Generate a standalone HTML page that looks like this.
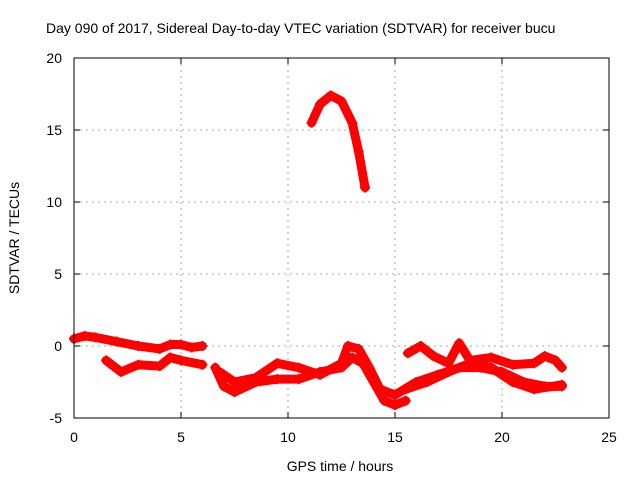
<!DOCTYPE html>
<html><head><meta charset="utf-8"><style>
body{margin:0;background:#fff;width:640px;height:480px;overflow:hidden}
svg text{font-family:"Liberation Sans",sans-serif;font-size:14px;fill:#000}
</style></head><body>
<svg id="c" width="640" height="480">
<text x="46" y="33">Day 090 of 2017, Sidereal Day-to-day VTEC variation (SDTVAR) for receiver bucu</text>
<text x="340" y="471" text-anchor="middle">GPS time / hours</text>
<text transform="translate(19,238) rotate(-90)" text-anchor="middle">SDTVAR / TECUs</text>
<g id="grid"></g><g id="ticks"></g><g id="marks"></g>
<rect x="74" y="58" width="535" height="360" fill="none" stroke="#000"/>
</svg>
<script>
const xTicks=[0,5,10,15,20,25];
const yTicks=[-5,0,5,10,15,20];
const seriesA=[[0,0.5],[0.5,0.7],[1,0.6],[2,0.3],[3,0],[4,-0.2],[4.5,0.1],[5,0.1],[5.5,-0.1],[6,0]];
const seriesB=[[1.5,-1],[2.2,-1.8],[3,-1.3],[4,-1.4],[4.5,-0.8],[5,-1],[6,-1.3]];
const seriesC=[[6.6,-1.5],[7,-2.8],[7.5,-3.2],[8.5,-2.5],[9.5,-2.3],[10.5,-2.3],[11.5,-1.8],[12.5,-1.5],[13,-0.8],[13.5,-1.2],[14,-2.5],[14.5,-3.8],[15,-4.1],[15.5,-3.8]];
const seriesD=[[6.8,-1.8],[7.5,-2.5],[8.5,-2.2],[9.5,-1.2],[10.5,-1.5],[11.5,-2],[12.5,-1.2],[12.8,0],[13.3,-0.2],[13.8,-1.5],[14.3,-3],[15,-3.4],[16,-2.5],[17,-2],[18,-1.5],[19,-1.5],[20,-1.8],[21,-2.5],[22,-2.8],[22.8,-2.8]];
const seriesE=[[15.5,-3],[16.5,-2.5],[17.5,-1.8],[18.5,-1.2],[19.5,-1.5],[20.5,-2.5],[21.5,-3],[22.8,-2.7]];
const seriesF=[[15.6,-0.5],[16.2,0],[16.8,-0.7],[17.5,-1.2],[18,0.2],[18.5,-1],[19.5,-0.8],[20.5,-1.3],[21.5,-1.2],[22,-0.7],[22.5,-1],[22.8,-1.5]];
const seriesG=[[11.1,15.5],[11.5,16.8],[12,17.4],[12.5,17.0],[13,15.5],[13.3,13.5],[13.6,11]];
const allSeries=[seriesA,seriesB,seriesC,seriesD,seriesE,seriesF,seriesG];
const NS="http://www.w3.org/2000/svg";
const X=v=>74+v*535/25, Y=v=>418-(v+5)*360/25;
function mk(t,a,p){const e=document.createElementNS(NS,t);for(const k in a)e.setAttribute(k,a[k]);p.appendChild(e);return e;}
const grid=document.getElementById('grid'),ticks=document.getElementById('ticks'),marks=document.getElementById('marks');
xTicks.forEach(v=>{
 if(v>0&&v<25){const g=mk('line',{x1:X(v),x2:X(v),y1:58,y2:418,stroke:'#aaa','stroke-dasharray':'2,4'},grid);
 
 }
 mk('line',{x1:X(v),x2:X(v),y1:418,y2:412,stroke:'#000'},ticks);
 mk('line',{x1:X(v),x2:X(v),y1:58,y2:64,stroke:'#000'},ticks);
 const t=mk('text',{x:X(v),y:442,'text-anchor':'middle'},ticks);t.textContent=v;
 
 
});
yTicks.forEach(v=>{
 if(v>-5&&v<20){const g=mk('line',{x1:74,x2:609,y1:Y(v),y2:Y(v),stroke:'#aaa','stroke-dasharray':'2,4'},grid);
 
 }
 mk('line',{x1:74,x2:80,y1:Y(v),y2:Y(v),stroke:'#000'},ticks);
 mk('line',{x1:609,x2:603,y1:Y(v),y2:Y(v),stroke:'#000'},ticks);
 const t=mk('text',{x:62,y:Y(v)+5,'text-anchor':'end'},ticks);t.textContent=v;
 
 
});
allSeries.forEach((s,i)=>{
 const p=mk('polyline',{points:s.map(d=>X(d[0])+','+Y(d[1])).join(' '),fill:'none',stroke:'#f00','stroke-width':9,'stroke-linejoin':'round','stroke-linecap':'round'},marks);
 
 
 s.forEach(d=>{const m=mk('path',{d:`M${X(d[0])-5},${Y(d[1])}h10M${X(d[0])},${Y(d[1])-5}v10`,stroke:'#f00','stroke-width':2},marks);
 
 });
});
</script>
</body></html>
